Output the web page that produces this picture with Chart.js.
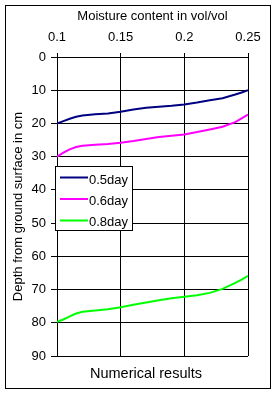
<!DOCTYPE html>
<html>
<head>
<meta charset="utf-8">
<script src="https://cdn.jsdelivr.net/npm/chart.js@4/dist/chart.umd.min.js"></script>
<style>
  html, body { margin: 0; padding: 0; background: #fff; }
  canvas { display: block; }
</style>
</head>
<body>
<canvas id="chart" width="276" height="393"></canvas>
<script>
// values
var moisture = [0.100, 0.105, 0.110, 0.115, 0.120, 0.130, 0.140, 0.150, 0.160, 0.170,
                0.180, 0.190, 0.200, 0.210, 0.220, 0.230, 0.240, 0.245, 0.250];
var depth05 = [20.0, 19.3, 18.6, 18.0, 17.6, 17.2, 17.0, 16.5, 15.8, 15.3,
               15.0, 14.7, 14.3, 13.7, 13.0, 12.4, 11.3, 10.7, 10.0];
var depth06 = [30.0, 28.8, 27.8, 27.1, 26.7, 26.4, 26.2, 25.8, 25.3, 24.7,
               24.1, 23.7, 23.3, 22.6, 21.8, 21.0, 19.6, 18.5, 17.3];
var depth08 = [79.7, 79.0, 78.1, 77.2, 76.7, 76.3, 75.9, 75.3, 74.6, 73.9,
               73.2, 72.6, 72.2, 71.7, 71.0, 69.8, 68.0, 67.0, 65.9];
var seriesLabels = ["0.5day", "0.6day", "0.8day"];
var seriesColors = ["#000080", "#ff00ff", "#00ff00"];

var FONT = "'Liberation Sans', Arial, sans-serif";

var toPoints = function(xs, ys) {
    var pts = [];
    for (var i = 0; i < xs.length; i++) {
        pts.push({x: xs[i], y: ys[i]});
    }
    return pts;
};

var allDepths = [depth05, depth06, depth08];
var datasets = [];
for (var i = 0; i < allDepths.length; i++) {
    datasets.push({
        label: seriesLabels[i],
        data: toPoints(moisture, allDepths[i]),
        showLine: true,
        borderColor: seriesColors[i],
        backgroundColor: seriesColors[i],
        borderWidth: 2,
        pointRadius: 0,
        tension: 0
    });
}

// frame, boxed legend and bottom caption
var decor = {
    id: 'decor',
    afterDraw: function(chart) {
        var ctx = chart.ctx;
        ctx.save();
        ctx.strokeStyle = '#000';
        ctx.lineWidth = 1;
        ctx.strokeRect(5.5, 5.5, 265, 383);

        // legend box
        ctx.fillStyle = '#fff';
        ctx.fillRect(55.5, 166.5, 77, 64);
        ctx.strokeRect(55.5, 166.5, 77, 64);
        ctx.font = '13px ' + FONT;
        ctx.textBaseline = 'alphabetic';
        ctx.textAlign = 'left';
        for (var i = 0; i < chart.data.datasets.length; i++) {
            var ds = chart.data.datasets[i];
            var y = 177.5 + i * 21.5;
            ctx.strokeStyle = ds.borderColor;
            ctx.lineWidth = 2;
            ctx.beginPath();
            ctx.moveTo(60, y);
            ctx.lineTo(88, y);
            ctx.stroke();
            ctx.fillStyle = '#000';
            ctx.fillText(ds.label, 89, 184 + i * 21);
        }

        ctx.font = '14.5px ' + FONT;
        ctx.textAlign = 'center';
        ctx.fillStyle = '#000';
        ctx.fillText('Numerical results', 146, 378);
        ctx.restore();
    }
};

new Chart(document.getElementById('chart'), {
    type: 'scatter',
    data: { datasets: datasets },
    options: {
        responsive: false,
        animation: false,
        devicePixelRatio: 1,
        layout: { padding: { left: 6, top: 6, right: 28, bottom: 37 } },
        plugins: {
            legend: { display: false },
            tooltip: { enabled: false }
        },
        scales: {
            x: {
                type: 'linear',
                position: 'top',
                min: 0.1,
                max: 0.25,
                afterFit: function(s) { s.height = 51; },
                title: {
                    display: true,
                    text: 'Moisture content in vol/vol',
                    color: '#000',
                    font: { family: FONT, size: 13 },
                    padding: { top: 3, bottom: 0 }
                },
                ticks: {
                    stepSize: 0.05,
                    color: '#000',
                    font: { family: FONT, size: 13 },
                    padding: 8,
                    maxRotation: 0,
                    callback: function(v) { return String(+v.toFixed(2)); }
                },
                grid: { color: '#000', lineWidth: 1, tickLength: 4 },
                border: { color: '#000' }
            },
            y: {
                reverse: true,
                min: 0,
                max: 90,
                afterFit: function(s) { s.width = 51; },
                title: {
                    display: true,
                    text: 'Depth from ground surface in cm',
                    color: '#000',
                    font: { family: FONT, size: 13 },
                    padding: { top: 5, bottom: 0 }
                },
                ticks: {
                    stepSize: 10,
                    color: '#000',
                    font: { family: FONT, size: 13 },
                    padding: 5
                },
                grid: { color: '#000', lineWidth: 1, tickLength: 6 },
                border: { color: '#000' }
            }
        }
    },
    plugins: [decor]
});
</script>
</body>
</html>
